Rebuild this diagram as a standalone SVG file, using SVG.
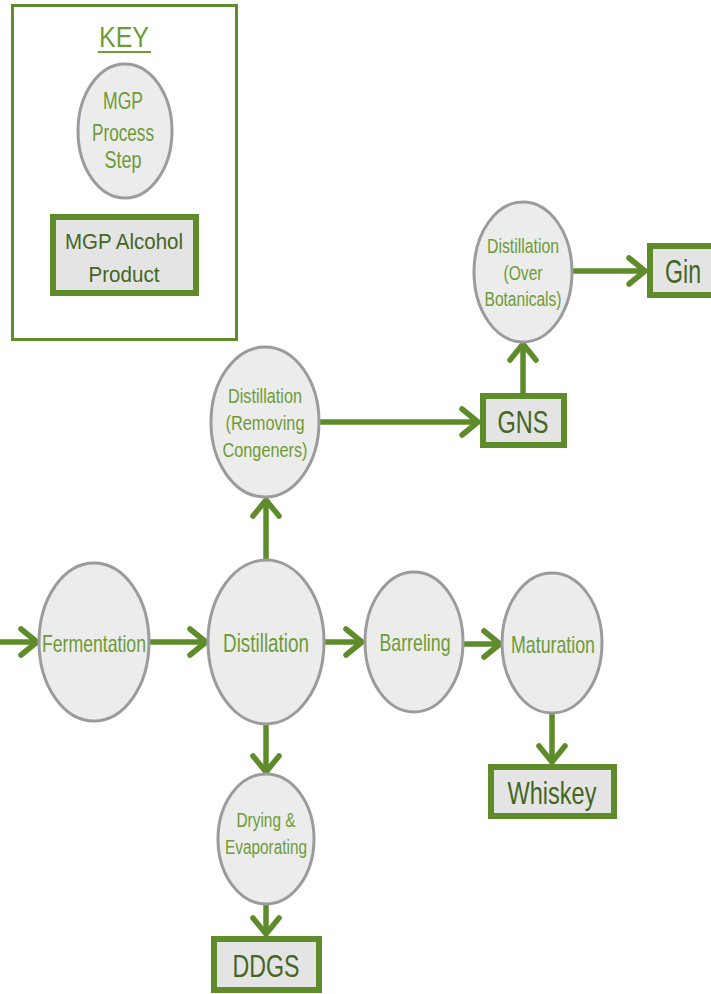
<svg xmlns="http://www.w3.org/2000/svg" width="711" height="994" viewBox="0 0 711 994">
<style>
.proc{fill:#ececec;stroke:#9b9b9b;stroke-width:3}
.prod{fill:#e4e4e4;stroke:#5e8c2a;stroke-width:6}
.pt{font-family:"Liberation Sans",Arial,sans-serif;fill:#6e9b36;text-anchor:middle}
.dt{font-family:"Liberation Sans",Arial,sans-serif;fill:#44661e;text-anchor:middle}
.conn{stroke:#5e8c2a;stroke-width:5.5;fill:none;marker-end:url(#ah)}
</style>
<defs>
<marker id="ah" markerUnits="userSpaceOnUse" viewBox="-20 -16 24 32" refX="0" refY="0" markerWidth="24" markerHeight="32" orient="auto" overflow="visible">
<path d="M-16,-13 L0,0 L-16,13" fill="none" stroke="#5e8c2a" stroke-width="5.5" stroke-linecap="round" stroke-linejoin="round"/>
</marker>
</defs>
<rect width="711" height="994" fill="#ffffff"/>

<g id="key">
<rect x="12.5" y="5.5" width="224" height="334" fill="#ffffff" stroke="#5e8c2a" stroke-width="3"/>
<text class="pt" x="124" y="47" font-size="30" textLength="50" lengthAdjust="spacingAndGlyphs">KEY</text>
<line x1="98" y1="52" x2="151" y2="52" stroke="#6e9b36" stroke-width="2"/>
<ellipse class="proc" cx="125" cy="131" rx="47" ry="67"/>
<text class="pt" font-size="23"><tspan x="123" y="109" textLength="40" lengthAdjust="spacingAndGlyphs">MGP</tspan><tspan x="123" y="141" textLength="62" lengthAdjust="spacingAndGlyphs">Process</tspan><tspan x="123" y="168" textLength="37" lengthAdjust="spacingAndGlyphs">Step</tspan></text>
<rect class="prod" x="53" y="217" width="143" height="76"/>
<text class="dt" font-size="22"><tspan x="124" y="249" textLength="118" lengthAdjust="spacingAndGlyphs">MGP Alcohol</tspan><tspan x="124" y="282" textLength="71" lengthAdjust="spacingAndGlyphs">Product</tspan></text>
</g>

<g id="connectors">
<line class="conn" x1="0" y1="642" x2="37" y2="642"/>
<line class="conn" x1="150" y1="642" x2="206" y2="642"/>
<line class="conn" x1="324" y1="642" x2="362" y2="642"/>
<line class="conn" x1="464" y1="644" x2="500" y2="644"/>
<line class="conn" x1="552" y1="713" x2="552" y2="762"/>
<line class="conn" x1="266" y1="724" x2="266" y2="772"/>
<line class="conn" x1="266" y1="904" x2="266" y2="934"/>
<line class="conn" x1="266" y1="560" x2="266" y2="500"/>
<line class="conn" x1="319" y1="422" x2="478" y2="422"/>
<line class="conn" x1="523" y1="393" x2="523" y2="344"/>
<line class="conn" x1="572" y1="271" x2="645" y2="271"/>
</g>

<g id="fermentation">
<ellipse class="proc" cx="94" cy="642" rx="55" ry="79"/>
<text class="pt" x="94" y="652" font-size="24" textLength="104" lengthAdjust="spacingAndGlyphs">Fermentation</text>
</g>
<g id="distillation">
<ellipse class="proc" cx="266" cy="642" rx="58" ry="82"/>
<text class="pt" x="266" y="652" font-size="26" textLength="86" lengthAdjust="spacingAndGlyphs">Distillation</text>
</g>
<g id="barreling">
<ellipse class="proc" cx="414" cy="642" rx="49" ry="70"/>
<text class="pt" x="415" y="651" font-size="24" textLength="71" lengthAdjust="spacingAndGlyphs">Barreling</text>
</g>
<g id="maturation">
<ellipse class="proc" cx="552" cy="643" rx="50" ry="70"/>
<text class="pt" x="553" y="653" font-size="24" textLength="84" lengthAdjust="spacingAndGlyphs">Maturation</text>
</g>
<g id="whiskey">
<rect class="prod" x="491" y="767" width="123" height="49"/>
<text class="dt" x="552" y="804" font-size="32" textLength="89" lengthAdjust="spacingAndGlyphs">Whiskey</text>
</g>
<g id="drying">
<ellipse class="proc" cx="266" cy="839" rx="48" ry="65"/>
<text class="pt" font-size="20"><tspan x="266" y="827" textLength="59" lengthAdjust="spacingAndGlyphs">Drying &amp;</tspan><tspan x="266" y="854" textLength="82" lengthAdjust="spacingAndGlyphs">Evaporating</tspan></text>
</g>
<g id="ddgs">
<rect class="prod" x="214" y="939" width="105" height="51"/>
<text class="dt" x="266" y="977" font-size="32" textLength="67" lengthAdjust="spacingAndGlyphs">DDGS</text>
</g>
<g id="distillation-removing">
<ellipse class="proc" cx="265" cy="422" rx="54" ry="75"/>
<text class="pt" font-size="20"><tspan x="265" y="403" textLength="74" lengthAdjust="spacingAndGlyphs">Distillation</tspan><tspan x="265" y="430" textLength="79" lengthAdjust="spacingAndGlyphs">(Removing</tspan><tspan x="265" y="457" textLength="85" lengthAdjust="spacingAndGlyphs">Congeners)</tspan></text>
</g>
<g id="gns">
<rect class="prod" x="483" y="396" width="81" height="49"/>
<text class="dt" x="523" y="433" font-size="32" textLength="51" lengthAdjust="spacingAndGlyphs">GNS</text>
</g>
<g id="distillation-botanicals">
<ellipse class="proc" cx="523" cy="272" rx="49" ry="70"/>
<text class="pt" font-size="20"><tspan x="523" y="253" textLength="72" lengthAdjust="spacingAndGlyphs">Distillation</tspan><tspan x="523" y="280" textLength="39" lengthAdjust="spacingAndGlyphs">(Over</tspan><tspan x="523" y="306" textLength="77" lengthAdjust="spacingAndGlyphs">Botanicals)</tspan></text>
</g>
<g id="gin">
<rect class="prod" x="650" y="246" width="70" height="49"/>
<text class="dt" x="683" y="283" font-size="34" textLength="36" lengthAdjust="spacingAndGlyphs">Gin</text>
</g>
</svg>
